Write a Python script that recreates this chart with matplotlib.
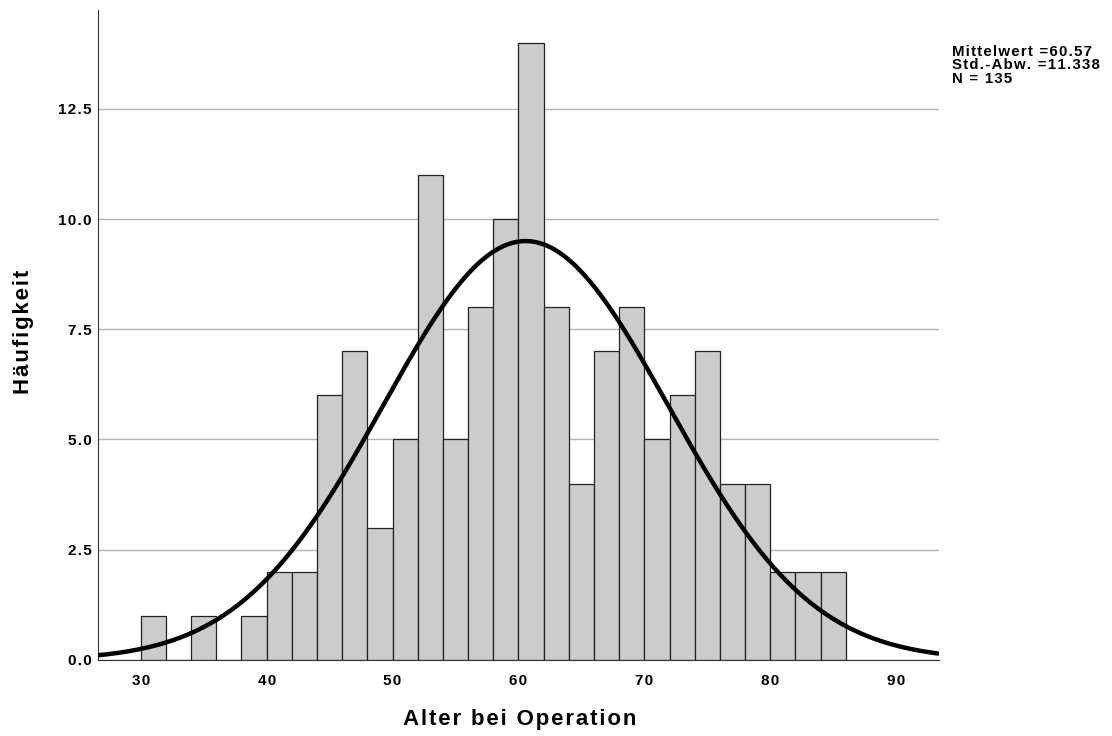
import numpy as np
import matplotlib
matplotlib.use("Agg")
import matplotlib.pyplot as plt

bin_edges_start = 30
bin_width = 2
counts = [1, 0, 1, 0, 1, 2, 2, 6, 7, 3, 5, 11, 5, 8, 10, 14, 8, 4, 7, 8, 5, 6, 7, 4, 4, 2, 2, 2]
mean = 60.57
std = 11.338
n = 135
yticks = [0.0, 2.5, 5.0, 7.5, 10.0, 12.5]
xticks = [30, 40, 50, 60, 70, 80, 90]
xlabel = "Alter bei Operation"
ylabel = "Häufigkeit"

plt.rcParams['font.family'] = ['Liberation Sans', 'DejaVu Sans']

HS = '\u200a'


def spaced(s):
    return HS.join(s)


fig = plt.figure(figsize=(11.12, 7.36), dpi=100)
ax = fig.add_axes([0.0881, 0.1033, 0.7563, 0.8831])

lefts = bin_edges_start + bin_width * np.arange(len(counts))
ax.bar(lefts, counts, width=bin_width, align='edge', color='#cccccc',
       edgecolor='#222222', linewidth=0.9, zorder=2)

xs = np.linspace(26.6, 93.4, 400)
ys = n * bin_width / (std * np.sqrt(2 * np.pi)) * np.exp(-0.5 * ((xs - mean) / std) ** 2)
ax.plot(xs, ys, color='black', linewidth=3.2, zorder=3, solid_capstyle='butt')

ax.set_xlim(26.6, 93.4)
ax.set_ylim(0, 14.74)
ax.set_yticks(yticks)
ax.set_yticklabels([spaced(f"{v:.1f}") for v in yticks])
ax.set_xticks(xticks)
ax.set_xticklabels([spaced(str(v)) for v in xticks])
ax.yaxis.grid(True, color='#b4b4b4', linewidth=1, zorder=0)
ax.set_axisbelow(True)
for s in ['top', 'right']:
    ax.spines[s].set_visible(False)
ax.spines['left'].set_color('#333333')
ax.spines['bottom'].set_color('#333333')
ax.tick_params(axis='both', length=0)
ax.tick_params(axis='y', pad=4.5)
ax.tick_params(axis='x', pad=10)
for lbl in ax.get_xticklabels() + ax.get_yticklabels():
    lbl.set_fontweight('bold')
    lbl.set_fontsize(11)

fig.text(520 / 1112, 1 - 719 / 736, spaced(xlabel), fontsize=16, fontweight='bold',
         ha='center', va='center')
fig.text(23 / 1112, 1 - 332 / 736, spaced(ylabel), fontsize=16, fontweight='bold',
         ha='center', va='center', rotation=90)

stats_lines = [f"Mittelwert ={mean}", f"Std.-Abw. ={std}", f"N = {n}"]
for i, line in enumerate(stats_lines):
    fig.text(952 / 1112, 1 - (52 + 13.4 * i) / 736, spaced(line),
             fontsize=10.8, fontweight='bold', va='center', ha='left')

fig.savefig("out.png", dpi=100)
